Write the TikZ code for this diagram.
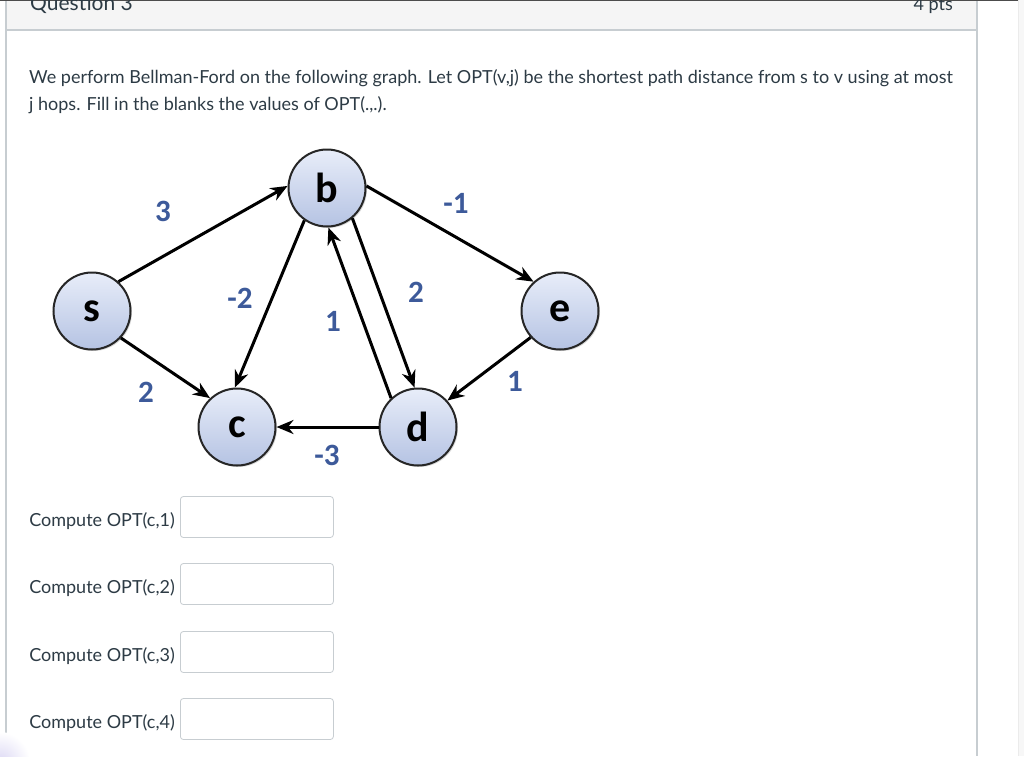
\documentclass[tikz,border=0pt]{standalone}
\usepackage{fontspec}
\setmainfont{Lato}
\newfontfamily\calfont{Carlito}
\usetikzlibrary{arrows.meta,positioning,shadows}

\definecolor{cvtext}{HTML}{2D3B45}
\definecolor{hdrgray}{HTML}{F5F5F5}
\definecolor{framegray}{HTML}{C7CDD1}
\definecolor{wtblue}{HTML}{3D5A9A}
\definecolor{vtop}{HTML}{E8EDF9}
\definecolor{vbot}{HTML}{B5C3E3}
\definecolor{glow}{HTML}{DCD8F4}

\tikzset{
  vtx/.style={circle, draw=black!85, line width=2pt, minimum size=77pt, inner sep=0pt,
    top color=vtop, bottom color=vbot, font=\calfont\bfseries\fontsize{42}{42}\selectfont,
    drop shadow={shadow xshift=1.5pt, shadow yshift=-1.5pt, opacity=0.3}},
  wt/.style={text=wtblue, font=\calfont\bfseries\fontsize{31}{31}\selectfont, inner sep=0pt},
  edge/.style={-{Stealth[length=17pt,width=14pt]}, line width=3pt},
  ansbox/.style={draw=framegray, rounded corners=3pt, minimum width=153pt, minimum height=41pt,
    line width=0.8pt, anchor=west},
  qtext/.style={text=cvtext, font=\fontsize{18}{22}\selectfont, inner sep=0pt},
}

\begin{document}
\begin{tikzpicture}[x=1pt,y=-1pt]
  \useasboundingbox (0,0) rectangle (1024,756);
  % page frame
  \fill[white] (0,0) rectangle (1024,756);
  \fill[black!3] (1018,0) rectangle (1024,756);
  \draw[black!8, line width=0.8pt] (1018,0) -- (1018,756);
  \fill[hdrgray] (6,0) rectangle (977,30);
  \draw[framegray, line width=1.2pt] (6,30) -- (977,30);
  \draw[framegray, line width=1.2pt] (6,0) -- (6,756);
  \draw[framegray, line width=1.5pt] (977,0) -- (977,756);
  \draw[black!70, line width=2pt] (0,0) -- (1018,0);
  \begin{scope}
    \clip (0,0) rectangle (1024,756);
    \shade[inner color=glow, outer color=white] (0,762) circle (30pt);
  \end{scope}

  % header
  \node[qtext, anchor=base west, font=\fontsize{21}{21}\selectfont] (qtitle) at (30,10) {Question 3};
  \node[qtext, anchor=base east, font=\fontsize{18}{18}\selectfont] (qpts) at (953,10) {4 pts};

  % question text
  \node[qtext, anchor=base west] (line1) at (29,83) {We perform Bellman-Ford on the following graph. Let OPT(v,j) be the shortest path distance from s to v using at most};
  \node[qtext, anchor=base west] (line2) at (29,110) {j hops. Fill in the blanks the values of OPT(.,.).};

  % graph
  \node[vtx] (s) at (92,311) {s};
  \node[vtx] (b) at (327,188) {b};
  \node[vtx] (e) at (560,311) {e};
  \node[vtx] (c) at (237,427) {c};
  \node[vtx] (d) at (418,427) {d};

  \draw[edge] (s.48) -- (b.177);
  \draw[edge] (b.3) -- (e.132);
  \draw[edge] (s.-43) -- (c.133);
  \draw[edge] (b.-125) -- (c.93);
  \draw[edge] (d.133) -- (b.-88);
  \draw[edge] (b.-50) -- (d.95);
  \draw[edge] (e.-138) -- (d.42);
  \draw[edge] (d.180) -- (c.0);

  \node[wt] (wsb) at (163,211) {3};
  \node[wt] (wbe) at (456,203) {-1};
  \node[wt] (wbc) at (240,298) {-2};
  \node[wt] (wbd) at (416,292) {2};
  \node[wt] (wdb) at (333,321) {1};
  \node[wt] (wsc) at (146,392) {2};
  \node[wt] (wed) at (515,381) {1};
  \node[wt] (wdc) at (327,455) {-3};

  % answer rows
  \foreach \k/\y in {1/517, 2/584, 3/652, 4/719} {
    \node[ansbox] (box\k) at (180,\y) {};
    \node[qtext, anchor=base east] (ask\k) at ([xshift=-5pt,yshift=-9pt]box\k.west) {Compute OPT(c,\k)};
  }
\end{tikzpicture}
\end{document}
